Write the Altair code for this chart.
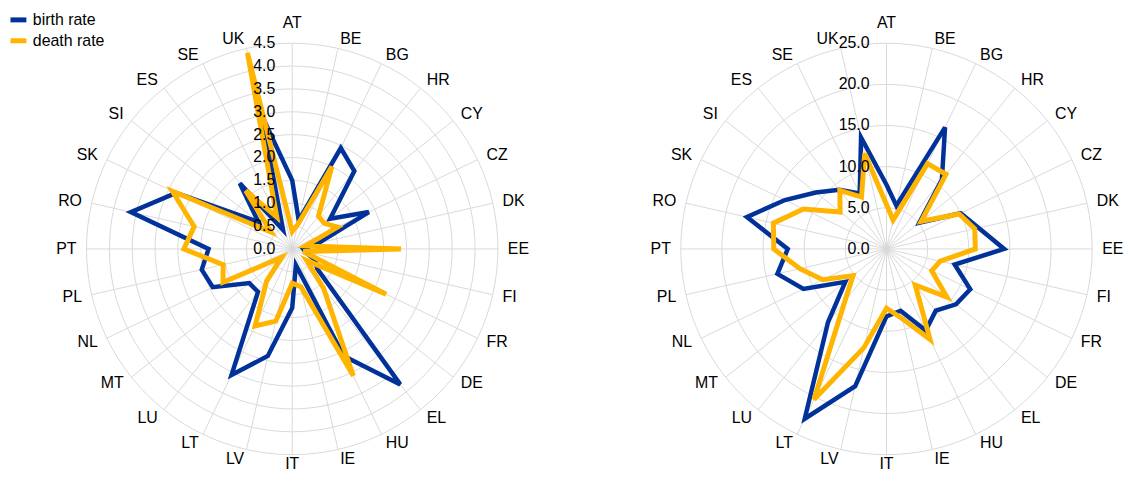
import altair as alt
import pandas as pd

countries = ["AT", "BE", "BG", "HR", "CY", "CZ", "DK", "EE", "FI", "FR", "DE", "EL", "HU", "IE",
             "IT", "LV", "LT", "LU", "MT", "NL", "PL", "PT", "RO", "SK", "SI", "ES", "SE", "UK"]
series_names = ["birth rate", "death rate"]
series_colors = ["#003299", "#FFB400"]

left_birth = [1.5, 0.64, 2.45, 2.18, 1.06, 1.86, 0.6, 0.24, 0.3, 0.55, 0.7, 3.79, 2.6, 0.36,
              1.29, 2.4, 3.06, 1.2, 1.2, 1.93, 2.03, 1.83, 3.62, 2.82, 0.95, 1.84, 0.46, 3.0]
left_death = [0.38, 0.55, 2.0, 0.92, 0.9, 1.1, 0.3, 2.38, 0.25, 2.28, 0.4, 1.1, 3.08, 0.85,
              0.75, 1.62, 1.87, 0.9, 0.29, 1.68, 1.55, 2.37, 2.2, 2.91, 0.59, 1.63, 0.78, 4.4]
left_ticks = [0.0, 0.5, 1.0, 1.5, 2.0, 2.5, 3.0, 3.5, 4.0, 4.5]

right_birth = [7.8, 5.4, 16.4, 10.8, 5.1, 10.0, 11.5, 14.3, 8.5, 11.3, 10.8, 9.6, 11.0, 7.7,
               8.2, 17.1, 22.9, 11.4, 6.4, 11.2, 13.6, 12.0, 17.4, 13.7, 11.0, 9.2, 7.5, 13.9]
right_death = [5.4, 3.6, 11.5, 11.6, 5.4, 9.8, 11.0, 10.8, 6.7, 6.1, 9.4, 5.6, 12.2, 8.7,
               7.2, 12.3, 20.3, 8.1, 5.2, 8.6, 10.8, 13.7, 14.1, 11.2, 7.2, 9.1, 7.0, 11.9]
right_ticks = [0.0, 5.0, 10.0, 15.0, 20.0, 25.0]

N = len(countries)
R = 207.0            # radius of the outer ring in px
LABEL_R_TOP = 219.0  # anchor radius of the top category name
LABEL_R_BOT = 208.0  # anchor radius of the bottom category name
LABEL_R_SIDE = 217.0
GRID = "#d9d9d9"
FONT = "Arial"
FS = 16


def build_panel(birth, death, ticks, width, height, cx, cy, legend):
    rmax = ticks[-1]
    xs = alt.Scale(domain=[-cx / R, (width - cx) / R], nice=False, zero=False)
    ys = alt.Scale(domain=[-(height - cy) / R, cy / R], nice=False, zero=False)

    def X(f):
        return alt.X(f, type="quantitative", scale=xs, axis=None)

    def Y(f):
        return alt.Y(f, type="quantitative", scale=ys, axis=None)

    ang = f"2*PI*datum.idx/{N}"
    cdf = pd.DataFrame({"country": countries, "idx": list(range(N))})

    gdf = pd.DataFrame([{"tick": t, "idx": k} for t in ticks if t > 0 for k in range(N)])
    rings = alt.Chart(gdf).transform_calculate(
        ang=ang,
        gx=f"datum.tick/{rmax}*sin(datum.ang)",
        gy=f"datum.tick/{rmax}*cos(datum.ang)",
    ).mark_line(interpolate="cardinal-closed", tension=0, color=GRID, strokeWidth=1).encode(
        x=X("gx"), y=Y("gy"), detail="tick:N", order="idx:Q"
    )

    spokes = alt.Chart(cdf).transform_calculate(
        ang=ang, zero="0", sx="sin(datum.ang)", sy="cos(datum.ang)"
    ).mark_rule(color=GRID, strokeWidth=1).encode(
        x=X("zero"), y=Y("zero"), x2="sx:Q", y2="sy:Q"
    )

    def series_layer(name, vals, width_px):
        sdf = pd.DataFrame({"country": countries, "idx": list(range(N)),
                            "value": vals, "series": name})
        return alt.Chart(sdf).transform_calculate(
            ang=ang,
            px=f"datum.value/{rmax}*sin(datum.ang)",
            py=f"datum.value/{rmax}*cos(datum.ang)",
        ).mark_line(interpolate="linear-closed", strokeWidth=width_px).encode(
            x=X("px"), y=Y("py"), order="idx:Q",
            color=alt.Color("series:N",
                            scale=alt.Scale(domain=series_names, range=series_colors),
                            legend=legend),
        )

    birth_l = series_layer(series_names[0], birth, 4.5)
    death_l = series_layer(series_names[1], death, 5)

    tdf = pd.DataFrame({"tick": ticks})
    tick_labels = alt.Chart(tdf).transform_calculate(
        zero="0", ty=f"datum.tick/{rmax}"
    ).mark_text(align="right", baseline="middle", dx=-17, fontSize=FS, font=FONT,
                color="#000000").encode(
        x=X("zero"), y=Y("ty"), text=alt.Text("tick:Q", format=".1f")
    )

    half = N // 2

    def lab(rad, flt, align, baseline):
        return alt.Chart(cdf).transform_filter(flt).transform_calculate(
            ang=ang,
            lx=f"{rad / R}*sin(datum.ang)",
            ly=f"{rad / R}*cos(datum.ang)",
        ).mark_text(align=align, baseline=baseline, fontSize=FS, font=FONT,
                    color="#000000").encode(x=X("lx"), y=Y("ly"), text="country:N")

    lab_top = lab(LABEL_R_TOP, alt.datum.idx == 0, "center", "bottom")
    lab_bottom = lab(LABEL_R_BOT, alt.datum.idx == half, "center", "top")
    lab_right = lab(LABEL_R_SIDE, (alt.datum.idx > 0) & (alt.datum.idx < half),
                    "left", "middle")
    lab_left = lab(LABEL_R_SIDE, alt.datum.idx > half, "right", "middle")

    return alt.layer(
        rings, spokes, birth_l, death_l, tick_labels,
        lab_top, lab_bottom, lab_right, lab_left
    ).properties(width=width, height=height)


legend_left = alt.Legend(
    title=None, orient="none", legendX=0, legendY=0, padding=0,
    symbolType="stroke", symbolSize=256, symbolStrokeWidth=5,
    labelFontSize=FS, labelFont=FONT, labelColor="#000000",
    labelOffset=4, rowPadding=0,
)

H = 462
left = build_panel(left_birth, left_death, left_ticks, 572, H, 286, 241, legend_left)
right = build_panel(right_birth, right_death, right_ticks, 544, H, 312, 241, None)

chart = alt.hconcat(left, right, spacing=0).resolve_scale(
    x="independent", y="independent", color="independent"
).properties(padding=0, background="white").configure_view(
    strokeWidth=0, stroke="transparent")

chart.save("out.html", embed_options={"renderer": "svg", "actions": False})
